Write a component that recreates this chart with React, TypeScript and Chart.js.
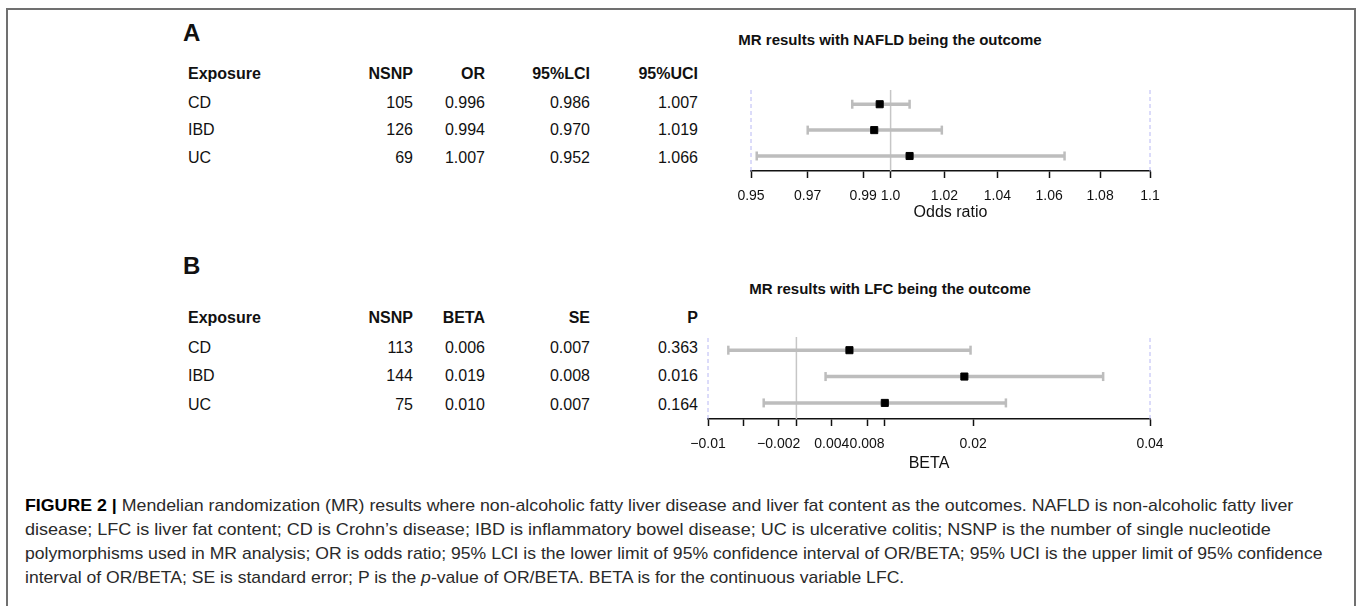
import React, { useEffect, useLayoutEffect, useRef } from "react";
import { Chart, registerables } from "chart.js";

Chart.register(...registerables);
Chart.defaults.font.family = '"Liberation Sans", Arial, sans-serif';

// ---------------- data ----------------
const exposures = ["CD", "IBD", "UC"];

// Panel A: NAFLD outcome
const nsnpA = [105, 126, 69];
const orA = [0.996, 0.994, 1.007];
const lciA = [0.986, 0.97, 0.952];
const uciA = [1.007, 1.019, 1.066];
const orTextA = ["0.996", "0.994", "1.007"];
const lciTextA = ["0.986", "0.970", "0.952"];
const uciTextA = ["1.007", "1.019", "1.066"];
const tickValuesA = [0.95, 0.97, 0.99, 1.0, 1.02, 1.04, 1.06, 1.08, 1.1];
const tickLabelsA = ["0.95", "0.97", "0.99", "1.0", "1.02", "1.04", "1.06", "1.08", "1.1"];

// Panel B: LFC outcome
const nsnpB = [113, 144, 75];
const betaB = [0.006, 0.019, 0.01];
const lowB = [-0.0077, 0.0033, -0.0037];
const highB = [0.0197, 0.0347, 0.0237];
const betaTextB = ["0.006", "0.019", "0.010"];
const seTextB = ["0.007", "0.008", "0.007"];
const pTextB = ["0.363", "0.016", "0.164"];
const tickValuesB = [-0.01, -0.006, -0.002, 0, 0.004, 0.008, 0.01, 0.02, 0.04];
const tickLabelsB = ["\u22120.01", "", "\u22120.002", "", "0.004", "0.008", "", "0.02", "0.04"];

const headersA = ["Exposure", "NSNP", "OR", "95%LCI", "95%UCI"];
const headersB = ["Exposure", "NSNP", "BETA", "SE", "P"];

// ---------------- helpers ----------------
const FONT = '"Liberation Sans", Arial, Helvetica, sans-serif';

type TProps = {
  x: number;
  y: number;
  align?: "left" | "right" | "center";
  size?: number;
  bold?: boolean;
  color?: string;
  children: React.ReactNode;
};

function T({ x, y, align = "left", size = 16, bold = false, color = "#111", children }: TProps) {
  const w = 800;
  const left = align === "left" ? x : align === "right" ? x - w : x - w / 2;
  return (
    <div
      style={{
        position: "absolute",
        left,
        top: y - 12,
        width: w,
        height: 24,
        lineHeight: "24px",
        fontSize: size,
        fontWeight: bold ? 700 : 400,
        color,
        textAlign: align,
        whiteSpace: "nowrap",
        fontFamily: FONT,
      }}
    >
      {children}
    </div>
  );
}

const capStyle: React.CSSProperties = {
  position: "absolute",
  lineHeight: "24px",
  height: 24,
  fontSize: 17,
  color: "#2a2a2a",
  whiteSpace: "nowrap",
  fontFamily: FONT,
  transformOrigin: "0 0",
  display: "inline-block",
};

// Caption: lines 1-3 fitted to their widths, the last line uses line 3's scale (same font)
function Caption({ x, ys, targets, lines }: { x: number; ys: number[]; targets: number[]; lines: React.ReactNode[] }) {
  const refs = useRef<(HTMLSpanElement | null)[]>([]);
  useLayoutEffect(() => {
    let last = 1;
    refs.current.forEach((el, i) => {
      if (!el) return;
      const w = el.offsetWidth;
      let s = last;
      if (targets[i] && w > 0) s = targets[i] / w;
      last = s;
      el.style.transform = `scaleX(${s})`;
    });
  }, []);
  return (
    <>
      {lines.map((ln, i) => (
        <span
          key={i}
          ref={(el) => {
            refs.current[i] = el;
          }}
          style={{ ...capStyle, left: x, top: ys[i] - 12 }}
        >
          {ln}
        </span>
      ))}
    </>
  );
}

type ForestProps = {
  left: number;
  top: number;
  width: number;
  height: number;
  axisHeight: number;
  scaleType: "logarithmic" | "linear";
  min: number;
  max: number;
  yMin: number;
  yMax: number;
  est: number[];
  lo: number[];
  hi: number[];
  nullValue: number;
  tickValues: number[];
  tickLabels: string[];
  title: string;
};

function Forest(p: ForestProps) {
  const ref = useRef<HTMLCanvasElement>(null);
  useEffect(() => {
    if (!ref.current) return;
    const rows = exposures.map((_, i) => exposures.length - i);
    const gray = "#bdbdbd";
    const datasets: any[] = [];
    rows.forEach((y, i) => {
      datasets.push({
        data: [
          { x: p.lo[i], y },
          { x: p.hi[i], y },
        ],
        showLine: true,
        borderColor: gray,
        borderWidth: 3.5,
        borderCapStyle: "butt",
        pointStyle: "line",
        pointRotation: 90,
        pointRadius: 4.5,
        pointHoverRadius: 4.5,
        pointBorderWidth: 2.5,
        pointBorderColor: gray,
        order: 2,
        clip: false,
      });
    });
    datasets.push({
      data: rows.map((y, i) => ({ x: p.est[i], y })),
      pointStyle: "rect",
      pointRadius: 5,
      pointHoverRadius: 5,
      backgroundColor: "#000",
      borderColor: "#000",
      pointBorderWidth: 1,
      order: 0,
      clip: false,
    });
    [p.min, p.max].forEach((x) =>
      datasets.push({
        data: [
          { x, y: p.yMin },
          { x, y: p.yMax },
        ],
        showLine: true,
        borderColor: "#b8b8f4",
        borderWidth: 1,
        borderDash: [4, 3],
        pointRadius: 0,
        order: 3,
        clip: false,
      })
    );
    datasets.push({
      data: [
        { x: p.nullValue, y: p.yMin },
        { x: p.nullValue, y: p.yMax },
      ],
      showLine: true,
      borderColor: "#c6c6c6",
      borderWidth: 1.5,
      pointRadius: 0,
      order: 3,
      clip: false,
    });

    const chart = new Chart(ref.current, {
      type: "scatter",
      data: { datasets },
      options: {
        animation: false,
        responsive: true,
        maintainAspectRatio: false,
        events: [],
        layout: { padding: { left: 30, right: 30, top: 5, bottom: 2 } },
        plugins: { legend: { display: false }, tooltip: { enabled: false } },
        scales: {
          x: {
            type: p.scaleType,
            min: p.min,
            max: p.max,
            afterBuildTicks: (s: any) => {
              s.ticks = p.tickValues.map((v) => ({ value: v }));
            },
            afterFit: (s: any) => {
              s.height = p.axisHeight;
            },
            ticks: {
              autoSkip: false,
              maxRotation: 0,
              minRotation: 0,
              color: "#111",
              font: { size: 14 },
              padding: 10,
              callback: (_v: any, i: number) => p.tickLabels[i],
            },
            grid: {
              display: true,
              drawOnChartArea: false,
              drawTicks: true,
              tickLength: 7,
              tickColor: "#111",
              tickWidth: 1.5,
            },
            border: { display: true, color: "#111", width: 1.5 },
            title: {
              display: true,
              text: p.title,
              color: "#111",
              font: { size: 16 },
              padding: { top: 0, bottom: 0 },
            },
          } as any,
          y: { type: "linear", display: false, min: p.yMin, max: p.yMax },
        },
      },
    });
    return () => chart.destroy();
  }, []);
  return (
    <div style={{ position: "absolute", left: p.left, top: p.top, width: p.width, height: p.height }}>
      <canvas ref={ref} />
    </div>
  );
}

// column right edges
const colX = [188, 413, 485, 590, 698];

function Table({ headerY, rowYs, headers, cols }: { headerY: number; rowYs: number[]; headers: string[]; cols: string[][] }) {
  return (
    <>
      {headers.map((h, c) => (
        <T key={"h" + c} x={colX[c]} y={headerY} align={c === 0 ? "left" : "right"} bold>
          {h}
        </T>
      ))}
      {rowYs.map((y, r) =>
        cols.map((col, c) => (
          <T key={r + "-" + c} x={colX[c]} y={y} align={c === 0 ? "left" : "right"}>
            {col[r]}
          </T>
        ))
      )}
    </>
  );
}

export default function App() {
  useEffect(() => {
    document.documentElement.style.overflow = "hidden";
    document.body.style.overflow = "hidden";
  }, []);

  const rowsA = [103, 130, 158];
  const rowsB = [348, 376, 405];

  return (
    <div
      style={{
        position: "fixed",
        left: 0,
        top: 0,
        width: 1357,
        height: 606,
        overflow: "hidden",
        background: "#fff",
        fontFamily: FONT,
      }}
    >
      <div
        style={{
          position: "absolute",
          left: 6,
          top: 8,
          width: 1346,
          height: 700,
          border: "2px solid #707070",
        }}
      />

      {/* Panel A */}
      <T x={183} y={33} size={24} bold>
        A
      </T>
      <T x={890} y={40} align="center" size={15} bold>
        MR results with NAFLD being the outcome
      </T>
      <Table
        headerY={74}
        rowYs={rowsA}
        headers={headersA}
        cols={[exposures, nsnpA.map(String), orTextA, lciTextA, uciTextA]}
      />
      <Forest
        left={721}
        top={83}
        width={459}
        height={141}
        axisHeight={51}
        scaleType="logarithmic"
        min={0.95}
        max={1.1}
        yMin={0.42}
        yMax={3.55}
        est={orA}
        lo={lciA}
        hi={uciA}
        nullValue={1}
        tickValues={tickValuesA}
        tickLabels={tickLabelsA}
        title="Odds ratio"
      />

      {/* Panel B */}
      <T x={183} y={266} size={24} bold>
        B
      </T>
      <T x={890} y={289} align="center" size={15} bold>
        MR results with LFC being the outcome
      </T>
      <Table
        headerY={318}
        rowYs={rowsB}
        headers={headersB}
        cols={[exposures, nsnpB.map(String), betaTextB, seTextB, pTextB]}
      />
      <Forest
        left={678}
        top={330}
        width={502}
        height={145}
        axisHeight={54}
        scaleType="linear"
        min={-0.01}
        max={0.04}
        yMin={0.39}
        yMax={3.5}
        est={betaB}
        lo={lowB}
        hi={highB}
        nullValue={0}
        tickValues={tickValuesB}
        tickLabels={tickLabelsB}
        title="BETA"
      />

      {/* Caption */}
      <Caption
        x={25}
        ys={[506, 530, 554, 578]}
        targets={[1268, 1246, 1297, 0]}
        lines={[
          <>
            <b style={{ color: "#000" }}>FIGURE 2 |</b> Mendelian randomization (MR) results where non-alcoholic fatty
            liver disease and liver fat content as the outcomes. NAFLD is non-alcoholic fatty liver
          </>,
          <>
            disease; LFC is liver fat content; CD is Crohn’s disease; IBD is inflammatory bowel disease; UC is
            ulcerative colitis; NSNP is the number of single nucleotide
          </>,
          <>
            polymorphisms used in MR analysis; OR is odds ratio; 95% LCI is the lower limit of 95% confidence interval
            of OR/BETA; 95% UCI is the upper limit of 95% confidence
          </>,
          <>
            interval of OR/BETA; SE is standard error; P is the <i>p</i>-value of OR/BETA. BETA is for the continuous
            variable LFC.
          </>,
        ]}
      />
    </div>
  );
}
